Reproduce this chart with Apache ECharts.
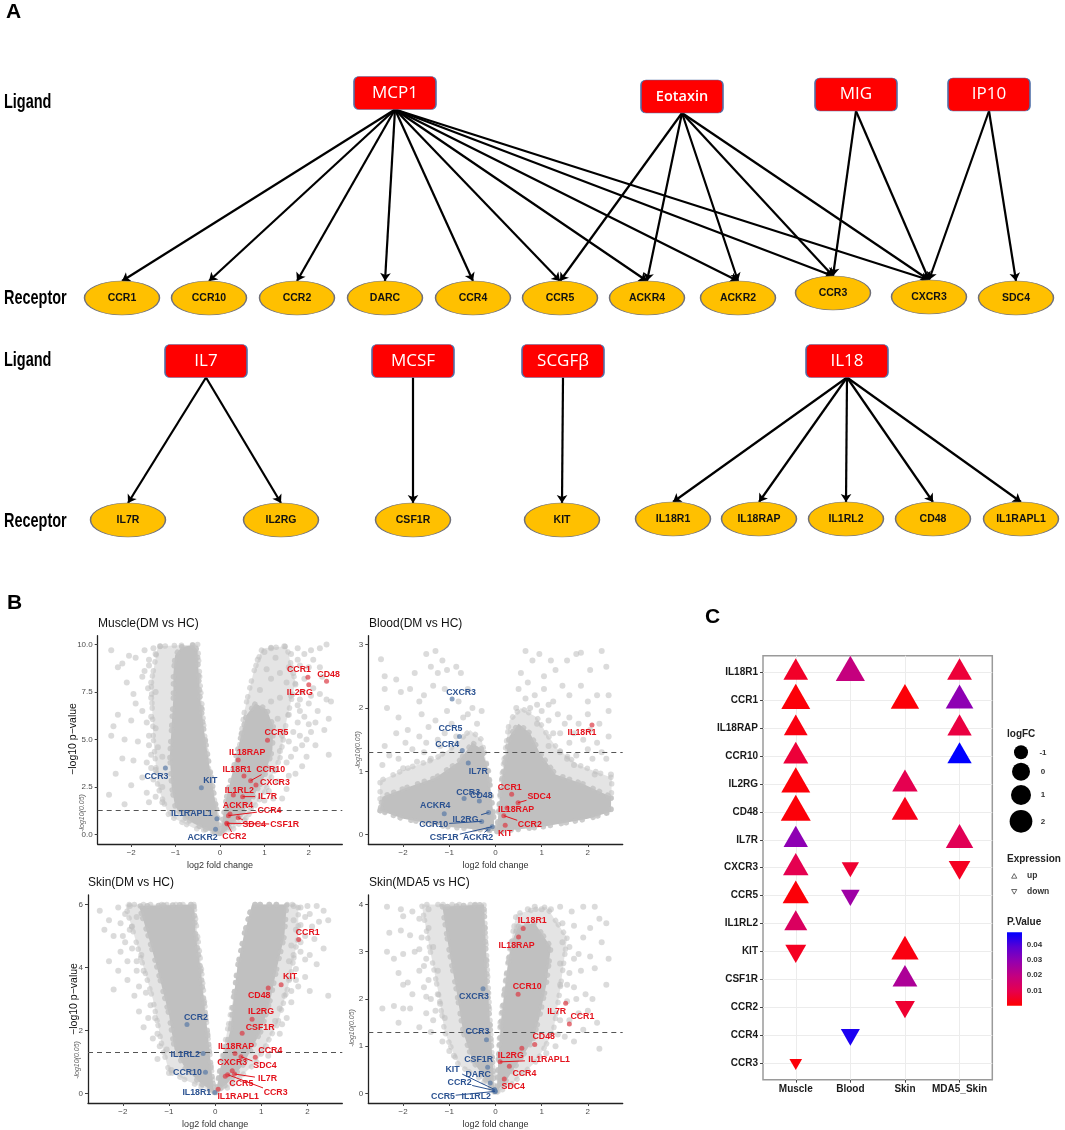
<!DOCTYPE html>
<html><head><meta charset="utf-8">
<style>html,body{margin:0;padding:0;background:#fff}#c{width:1065px;height:1130px}</style>
<script src="https://cdn.jsdelivr.net/npm/echarts@6/dist/echarts.min.js"></script>
</head><body><div id="c"></div>
<script>
// ---------- Panel A data ----------
const ligandsTop = ['MCP1','Eotaxin','MIG','IP10'];
const ligandsBottom = ['IL7','MCSF','SCGF\u03b2','IL18'];
const receptorsTop = ['CCR1','CCR10','CCR2','DARC','CCR4','CCR5','ACKR4','ACKR2','CCR3','CXCR3','SDC4'];
const receptorsBottom = ['IL7R','IL2RG','CSF1R','KIT','IL18R1','IL18RAP','IL1RL2','CD48','IL1RAPL1'];
const edgesA = [
 ['MCP1','CCR1'],['MCP1','CCR10'],['MCP1','CCR2'],['MCP1','DARC'],['MCP1','CCR4'],['MCP1','CCR5'],['MCP1','ACKR4'],['MCP1','ACKR2'],['MCP1','CCR3'],['MCP1','CXCR3'],
 ['Eotaxin','CCR5'],['Eotaxin','ACKR4'],['Eotaxin','ACKR2'],['Eotaxin','CCR3'],['Eotaxin','CXCR3'],
 ['MIG','CCR3'],['MIG','CXCR3'],['IP10','CXCR3'],['IP10','SDC4'],
 ['IL7','IL7R'],['IL7','IL2RG'],['MCSF','CSF1R'],['SCGF\u03b2','KIT'],
 ['IL18','IL18R1'],['IL18','IL18RAP'],['IL18','IL1RL2'],['IL18','CD48'],['IL18','IL1RAPL1']];
// node placement on the page (px): centre x, centre y
const ligandAt = {MCP1:[395,93],Eotaxin:[682,96.5],MIG:[856,94.5],IP10:[989,94.5],IL7:[206,361],MCSF:[413,361],'SCGF\u03b2':[563,361],IL18:[847,361]};
const receptorAt = {CCR1:[122,298],CCR10:[209,298],CCR2:[297,298],DARC:[385,298],CCR4:[473,298],CCR5:[560,298],ACKR4:[647,298],ACKR2:[738,298],CCR3:[833,293],CXCR3:[929,297],SDC4:[1016,298],
 IL7R:[128,520],IL2RG:[281,520],CSF1R:[413,520],KIT:[562,520],IL18R1:[673,519],IL18RAP:[759,519],IL1RL2:[846,519],CD48:[933,519],IL1RAPL1:[1021,519]};

// ---------- Panel B data: highlighted genes [name, log2FC, -log10 p] ----------
const muscleGenes = [['CCR1',1.98,8.27],['CD48',2.40,8.06],['IL2RG',2.0,7.88],['CCR5',1.07,4.97],['IL18RAP',0.41,3.92],['IL18R1',0.54,3.08],['CCR10',0.69,2.84],['CXCR3',0.81,2.61],['IL1RL2',0.30,2.08],['IL7R',0.51,2.0],['ACKR4',0.225,1.09],['CCR4',0.19,1.0],['SDC4',0.41,0.89],['CSF1R',0.15,0.6],['CCR2',0.165,0.56],['CCR3',-1.23,3.5],['KIT',-0.42,2.47],['IL1RAPL1',-0.07,0.84],['ACKR2',-0.10,0.28]];
const bloodGenes = [['IL18R1',2.09,1.73],['CCR1',0.35,0.64],['SDC4',0.49,0.505],['IL18RAP',0.25,0.42],['CCR2',0.18,0.30],['KIT',0.21,0.147],['CXCR3',-0.94,2.14],['CCR5',-0.78,1.55],['CCR4',-0.72,1.33],['IL7R',-0.59,1.13],['CCR3',-0.68,0.57],['CD48',-0.35,0.53],['ACKR4',-1.11,0.33],['IL2RG',-0.15,0.35],['CCR10',-0.30,0.21],['CSF1R',-0.07,0.126],['ACKR2',-0.16,0.084]];
const skinDmGenes = [['CCR1',1.81,4.89],['KIT',1.43,3.45],['CD48',1.15,3.35],['IL2RG',0.80,2.36],['CSF1R',0.585,1.91],['IL18RAP',0.43,1.27],['CCR4',0.87,1.15],['SDC4',0.56,1.17],['CXCR3',0.37,0.72],['IL7R',0.42,0.62],['CCR5',0.22,0.55],['CCR3',0.27,0.60],['IL1RAPL1',0.065,0.137],['CCR2',-0.61,2.19],['IL1RL2',-0.26,1.27],['CCR10',-0.21,0.675],['IL18R1',-0.007,0.03]];
const skinMdaGenes = [['IL18R1',0.60,3.49],['IL18RAP',0.50,3.31],['CCR10',0.49,2.10],['IL7R',1.52,1.91],['CCR1',1.60,1.47],['CD48',0.85,1.04],['IL2RG',0.57,0.956],['IL1RAPL1',0.10,0.67],['CCR4',0.30,0.58],['SDC4',0.19,0.31],['CXCR3',-0.27,2.215],['CCR3',-0.195,1.14],['CSF1R',-0.17,0.555],['DARC',-0.115,0.225],['KIT',-0.02,0.085],['CCR2',-0.02,0.063],['IL1RL2',-0.005,0.05],['CCR5',-0.01,0.045]];

// gene label placement: px offset from the point, third entry = draw leader line
const muscleLabels = {CCR1:[-9,-8],CD48:[2,-7],IL2RG:[-9,8],CCR5:[9,-8],IL18RAP:[9,-8],IL18R1:[-7,-7],CCR10:[20,-11,1],CXCR3:[19,-2],IL1RL2:[6,-5],IL7R:[25,0,1],ACKR4:[8,-8],CCR4:[41,-5,1],SDC4:[16,7,1],CSF1R:[58,1,1],CCR2:[7,13,1],CCR3:[-9,8],KIT:[9,-7],IL1RAPL1:[-25,-5],ACKR2:[-13,8]};
const bloodLabels = {IL18R1:[-10,8],CCR1:[-2,-7],SDC4:[21,-6,1],IL18RAP:[9,2],CCR2:[26,9,1],KIT:[0,8],CXCR3:[9,-7],CCR5:[-9,-8],CCR4:[-15,-6],IL7R:[10,8],CCR3:[4,-6],CD48:[2,-6],ACKR4:[-9,-8],IL2RG:[-23,7,1],CCR10:[-48,3,1],CSF1R:[-48,11,1],ACKR2:[-10,8,1]};
const skinDmLabels = {CCR1:[9,-7],KIT:[9,-8],CD48:[-9,8],IL2RG:[9,-8],CSF1R:[18,-6],IL18RAP:[1,-7],CCR4:[15,-7],SDC4:[24,9,1],CXCR3:[0,-8],IL7R:[33,5,1],CCR5:[16,7],CCR3:[48,18,1],IL1RAPL1:[20,7],CCR2:[9,-7],IL1RL2:[-18,1],CCR10:[-18,0],IL18R1:[-18,0]};
const skinMdaLabels = {IL18R1:[9,-8],IL18RAP:[-2,8],CCR10:[9,-8],IL7R:[-9,8],CCR1:[13,-7],CD48:[9,-8],IL2RG:[-11,7],IL1RAPL1:[49,-2,1],CCR4:[15,7],SDC4:[9,8],CXCR3:[-9,8],CCR3:[-9,-8],CSF1R:[-9,-8],DARC:[-12,-8],KIT:[-42,-20,1],CCR2:[-35,-8,1],IL1RL2:[-19,5],CCR5:[-52,5,1]};

// Dense clouds: outlines (core = solid, fringe = thinned-out zone)
const muscleCore = [[[-0.015,0.07],[-0.3,0.25],[-0.6,0.6],[-0.83,0.95],[-1.01,1.47],[-1.09,2.52],[-1.13,4.1],[-1.09,5.67],[-1.05,7.25],[-1.05,8.48],[-1.01,9.44],[-0.86,9.88],[-0.6,9.96],[-0.51,9.7],[-0.49,8.65],[-0.45,7.25],[-0.375,5.67],[-0.26,3.92],[-0.15,2.35],[-0.075,1.3],[0,0.25]],
 [[0.015,0.07],[0.075,0.95],[0.15,2.0],[0.26,3.05],[0.36,4.1],[0.47,5.15],[0.6,6.3],[0.8,6.9],[1.05,6.6],[1.2,5.7],[1.18,4.45],[1.0,3.05],[0.75,2.0],[0.49,1.12],[0.225,0.42],[0.075,0.07]]];
const muscleFringe = [[[-0.05,0.1],[-0.6,0.35],[-1.15,1],[-1.4,2.5],[-1.5,5],[-1.55,8],[-1.4,9.9],[-0.5,10],[-0.45,8],[-0.3,4],[-0.1,1.5]],
 [[0.05,0.3],[0.25,2.2],[0.4,4],[0.55,6.5],[0.75,8.5],[0.95,9.8],[1.5,9.9],[1.7,8],[1.5,6],[1.35,4],[1.0,2.2],[0.6,0.9],[0.2,0.1]]];
const bloodCore = [[[-2.5,0.38],[-2,0.25],[-1,0.12],[-0.04,0.06],[-0.03,0.2],[-0.15,1.0],[-0.3,1.35],[-0.5,1.45],[-0.8,1.15],[-1.3,0.9],[-1.9,0.75],[-2.45,0.6]],
 [[0.03,0.05],[1,0.12],[2,0.25],[2.5,0.36],[2.5,0.6],[1.9,0.8],[1.3,0.95],[0.95,1.3],[0.75,1.6],[0.5,1.75],[0.3,1.55],[0.12,0.8]]];
const bloodFringe = [[[-2.5,0.38],[-0.04,0.06],[-0.04,0.3],[-0.2,1.15],[-0.3,1.5],[-0.55,1.65],[-0.9,1.4],[-1.3,1.2],[-1.9,1.05],[-2.5,0.85]],
 [[0.03,0.05],[2.5,0.36],[2.52,0.9],[1.8,1.1],[1.35,1.35],[1.1,1.6],[0.9,1.85],[0.55,2.0],[0.3,1.8],[0.15,1.0]]];
const skinDmCore = [[[-0.02,0.05],[-0.3,0.3],[-0.65,0.8],[-0.88,1.4],[-1.0,2.5],[-1.26,4],[-1.45,5],[-1.65,5.95],[-0.46,6],[-0.42,5],[-0.32,4],[-0.25,3],[-0.17,2],[-0.08,0.7]],
 [[0.02,0.05],[0.1,0.7],[0.2,1.3],[0.33,2],[0.4,3],[0.48,4],[0.62,5],[0.8,6],[1.55,6],[1.5,5],[1.34,4],[1.2,3],[1,2],[0.6,0.9],[0.25,0.3]]];
const skinDmFringe = [[[-0.02,0.03],[-0.6,0.4],[-1,0.7],[-1.15,1.5],[-1.35,3],[-1.65,4.5],[-1.95,6],[-0.46,6],[-0.3,4],[-0.17,2],[-0.06,0.5]],
 [[0.02,0.03],[0.12,0.9],[0.33,2.5],[0.62,5],[0.8,6],[1.8,6],[1.8,5],[1.6,3.5],[1.35,2.2],[0.9,1],[0.3,0.2]]];
const skinMdaCore = [[[-0.03,0.05],[-0.22,0.3],[-0.5,0.7],[-0.7,1.3],[-0.85,2.2],[-1.0,3],[-1.15,3.95],[-0.25,4],[-0.22,3.3],[-0.17,2.2],[-0.1,1.2],[-0.05,0.5]],
 [[0.03,0.05],[0.06,0.7],[0.12,1.5],[0.25,2.6],[0.35,3.2],[0.5,3.55],[0.85,3.6],[1.2,3.1],[1.1,2.3],[0.95,1.6],[0.8,1.1],[0.55,0.75],[0.25,0.3]]];
const skinMdaFringe = [[[-0.03,0.03],[-0.3,0.3],[-0.8,0.6],[-1.1,1.3],[-1.25,2.2],[-1.45,3.2],[-1.6,4],[-0.25,4],[-0.1,1.2]],
 [[0.03,0.03],[0.1,1.5],[0.3,3],[0.45,3.8],[1.1,3.95],[1.55,3.3],[1.4,2.2],[1.25,1.3],[0.9,0.7],[0.3,0.15]]];

// Sparse outlying genes, estimated by eye
const muscleSparse = [[-2.45,9.7],[-2.2,9.0],[-2.3,8.8],[-2.05,9.4],[-1.9,9.3],[-1.7,9.7],[-1.6,9.2],[-1.6,8.9],[-1.45,9.5],[-1.35,9.9],[-2.1,8.0],[-1.95,7.4],[-1.75,8.3],[-1.55,8.0],[-1.45,7.5],[-2.3,6.3],[-2.4,5.7],[-2.0,6.0],[-1.75,6.5],[-1.55,6.2],[-1.45,5.6],[-2.45,5.2],[-2.15,5.0],[-1.85,4.9],[-1.6,4.7],[-1.4,4.6],[-2.2,4.0],[-1.95,3.9],[-1.65,3.8],[-1.45,3.4],[-1.3,4.1],[-2.35,3.2],[-1.75,3.0],[-1.5,2.9],[-1.3,2.5],[-2.5,2.1],[-2.0,2.6],[-1.65,2.2],[-1.45,2.0],[-1.3,1.7],[-2.15,1.6],
 [-1.7,8.6],[-1.55,7.2],[-1.65,5.9],[-1.6,5.2],[-1.55,4.2],[-1.55,3.5],[-1.6,1.7],[-1.5,9.8],[-1.62,7.7],[-1.9,6.9],
 [1.0,9.6],[0.85,9.2],[1.15,9.8],[1.25,9.3],[1.45,9.9],[1.6,9.5],[1.75,9.8],[1.9,9.5],[2.05,9.7],[2.25,9.8],[2.4,10],[2.1,9.2],[2.25,8.8],[1.8,8.9],[1.55,8.8],[1.35,8.5],[1.15,8.2],[1.05,8.7],[1.5,8.0],[1.7,7.9],[1.85,7.5],[2.1,7.7],[2.25,7.4],[2.4,7.1],[2.5,7.0],[1.6,7.3],[1.35,7.2],[1.15,7.0],[0.9,7.6],[2.0,6.9],[2.2,6.5],[2.45,6.1],[1.8,6.5],[1.55,6.3],[1.3,6.1],[2.0,5.8],[2.35,5.5],[1.65,5.4],[1.95,5.0],[1.4,5.2],[2.15,4.7],[1.7,4.5],[1.35,4.4],[2.45,4.2],[1.95,4.1],[1.5,3.8],[1.25,3.4],[1.7,3.2],[1.3,2.8],[1.1,2.3],[1.5,2.4],[1.0,1.8],[0.7,1.4],[0.55,0.75],
 [1.75,9.2],[2.0,8.8],[2.3,8.3],[1.65,8.5],[1.9,8.2],[1.8,7.1],[2.05,7.3],[1.75,6.8],[1.9,6.2],[1.75,5.9],[2.15,5.9],[1.8,5.2],[2.05,5.4],[1.55,4.9],[1.85,4.7],[1.6,4.1],[1.85,3.6],[1.55,3.1],[1.4,1.9],[1.2,1.9]];
const bloodSparse = [[-2.48,2.77],[-2.4,2.5],[-2.4,2.3],[-2.15,2.45],[-1.75,2.55],[-1.55,2.2],[-1.5,2.85],[-1.4,2.65],[-1.3,2.9],[-1.25,2.55],[-1.15,2.75],[-1.05,2.6],[-0.85,2.65],[-0.75,2.55],[-2.35,2.0],[-2.05,2.25],[-1.85,2.3],[-1.65,2.1],[-1.35,2.35],[-1.1,2.3],[-0.8,2.1],[-0.6,2.3],[-0.5,2.0],[-2.1,1.85],[-1.9,1.65],[-1.6,1.9],[-1.3,1.8],[-1.25,1.5],[-1.05,1.95],[-0.95,1.75],[-0.7,1.85],[-0.4,1.75],[-0.3,1.95],[-2.4,1.4],[-2.15,1.6],[-1.8,1.35],[-1.5,1.45],[-1.2,1.4],[-2.45,1.1],[-2.1,1.2],[-1.7,1.15],[-1.4,1.2],
 [-2.3,1.25],[-1.95,1.45],[-1.65,1.55],[-1.45,1.7],[-1.1,1.6],[-0.85,1.55],[-0.6,1.9],[-2.0,1.05],[-1.55,1.3],
 [0.55,2.55],[0.65,2.9],[0.8,2.75],[0.95,2.85],[1.05,2.5],[1.2,2.75],[1.3,2.6],[1.55,2.75],[1.75,2.85],[1.85,2.87],[2.05,2.6],[2.3,2.9],[2.4,2.65],[0.5,2.3],[0.7,2.4],[0.85,2.2],[1.05,2.3],[1.25,2.1],[1.45,2.35],[1.6,2.2],[1.85,2.35],[2.0,2.1],[2.2,2.2],[2.45,2.2],[0.45,2.0],[0.75,2.0],[1.0,1.95],[1.15,1.8],[1.35,1.9],[1.6,1.85],[1.8,1.75],[2.0,1.9],[2.25,1.75],[2.45,1.95],[0.9,1.75],[1.4,1.6],[1.6,1.45],[1.9,1.5],[2.2,1.45],[2.45,1.55],[1.15,1.4],[1.4,1.3],[1.75,1.25],[2.1,1.2],[2.4,1.2],[2.5,0.95],[2.15,0.95],[1.7,1.1],
 [1.25,1.6],[1.5,1.75],[1.7,1.6],[2.05,1.65],[2.3,1.3],[2.0,1.35],[1.55,1.2],[0.65,2.15],[0.9,2.05],[1.15,2.05]];
const skinDmSparse = [[-2.5,5.8],[-2.3,5.5],[-2.4,5.2],[-2.1,5.9],[-2.05,5.4],[-1.95,5.7],[-1.85,5.95],[-1.8,5.3],[-1.7,5.6],[-2.2,5],[-1.95,4.8],[-2.3,4.2],[-2.05,4.5],[-1.8,4.6],[-1.7,4.2],[-1.55,3.9],[-2.1,3.9],[-1.9,3.6],[-2.2,3.3],[-1.65,3.4],[-1.75,3.1],[-1.5,3.2],[-1.4,2.8],[-1.65,2.6],[-1.3,2.4],[-1.55,2.1],[-1.25,1.9],[-1.05,1.4],[-1.25,1.1],[-1.0,0.65],[-0.95,0.75],
 [-1.7,3.9],[-1.6,4.4],[-1.85,5.2],[-1.9,4.2],[-2.0,5.0],[-1.45,2.4],[-1.2,1.5],[-1.35,1.75],
 [1.7,5.95],[1.85,5.9],[2.0,5.95],[2.2,5.95],[2.35,5.8],[2.45,5.5],[1.7,5.5],[1.95,5.6],[2.1,5.3],[2.25,5.45],[1.75,5.2],[1.95,5.0],[2.15,4.9],[2.35,4.6],[1.65,4.7],[1.85,4.5],[2.05,4.4],[2.2,4.1],[1.6,4.2],[1.75,3.95],[1.95,3.7],[1.6,3.6],[1.8,3.4],[2.05,3.25],[1.5,3.1],[2.45,3.1],[1.65,2.9],[1.4,2.7],[1.55,2.4],[1.3,2.3],[1.4,1.9],[1.1,1.5],[1.15,1.2],
 [1.85,5.35],[2.05,5.7],[1.85,4.8],[1.7,4.4],[1.95,4.25],[1.75,3.6],[1.65,3.25],[1.45,2.2]];
const skinMdaSparse = [[-2.35,3.95],[-2.05,3.9],[-2.0,3.75],[-1.8,3.85],[-1.65,3.7],[-1.45,3.9],[-2.3,3.4],[-2.05,3.45],[-1.85,3.35],[-1.6,3.3],[-1.45,3.5],[-2.35,3.0],[-2.2,2.85],[-2.0,2.95],[-1.75,3],[-1.5,2.85],[-1.35,3.1],[-2.1,2.55],[-1.9,2.35],[-1.65,2.6],[-1.45,2.4],[-1.25,2.6],[-2.0,2.3],[-1.8,2.1],[-1.5,2.05],[-1.25,2.1],[-2.45,1.8],[-2.2,1.85],[-2.0,1.8],[-1.85,1.8],[-1.5,1.7],[-1.3,1.75],[-1.1,1.6],[-2.1,1.5],[-1.65,1.4],[-1.4,1.3],[-1.15,1.1],[-1.0,0.9],[-0.9,0.8],
 [-1.55,2.7],[-1.65,3.05],[-1.55,2.25],[-1.35,1.55],[-1.2,1.9],[-1.4,2.0],
 [0.7,3.9],[0.85,3.95],[1.0,3.9],[1.2,3.9],[1.4,3.95],[1.65,3.85],[1.9,3.95],[2.15,3.95],[2.25,3.7],[2.4,3.6],[1.45,3.6],[1.7,3.55],[1.9,3.3],[2.05,3.5],[2.3,3.2],[1.45,3.2],[1.6,3.1],[1.8,2.95],[2.05,2.9],[2.45,2.85],[1.4,2.75],[1.6,2.55],[1.85,2.6],[2.15,2.65],[2.4,2.3],[1.4,2.3],[1.7,2.25],[1.95,2.1],[2.1,2.0],[1.55,1.95],[1.8,1.7],[2.0,1.75],[2.2,1.5],[1.4,1.55],[1.9,1.35],[1.5,1.2],[1.7,1.1],[1.3,1.0],[1.1,0.85],[2.25,0.95],
 [1.7,2.85],[1.55,2.3],[1.75,2.0],[1.6,1.55],[1.35,1.25]];

const xTicks = [-2,-1,0,1,2];
const muscleYTicks = [0,2.5,5,7.5,10];
const bloodYTicks = [0,1,2,3];
const skinDmYTicks = [0,2,4,6];
const skinMdaYTicks = [0,1,2,3,4];
const pThreshold = 1.301;

// ---------- Panel C data ----------
const bubbleConditions = ['Muscle','Blood','Skin','MDA5_Skin'];
const bubbleGenes = ['IL18R1','CCR1','IL18RAP','CCR10','IL2RG','CD48','IL7R','CXCR3','CCR5','IL1RL2','KIT','CSF1R','CCR2','CCR4','CCR3'];
// [gene, condition, logFC, P.Value]
const bubbleRows = [
 ['IL18R1','Muscle',0.54,0.005],['IL18R1','Blood',2.09,0.019],['IL18R1','MDA5_Skin',0.60,0.007],
 ['CCR1','Muscle',1.98,0.001],['CCR1','Skin',1.81,0.001],['CCR1','MDA5_Skin',1.60,0.03],
 ['IL18RAP','Muscle',0.41,0.002],['IL18RAP','MDA5_Skin',0.50,0.008],
 ['CCR10','Muscle',0.69,0.007],['CCR10','MDA5_Skin',0.49,0.05],
 ['IL2RG','Muscle',2.0,0.001],['IL2RG','Skin',0.80,0.01],
 ['CD48','Muscle',2.40,0.001],['CD48','Skin',1.15,0.003],
 ['IL7R','Muscle',0.51,0.03],['IL7R','MDA5_Skin',1.52,0.011],
 ['CXCR3','Muscle',0.81,0.01],['CXCR3','Blood',-0.94,0.006],['CXCR3','MDA5_Skin',-0.27,0.004],
 ['CCR5','Muscle',1.07,0.001],['CCR5','Blood',-0.78,0.027],
 ['IL1RL2','Muscle',0.30,0.013],
 ['KIT','Muscle',-0.42,0.004],['KIT','Skin',1.43,0.002],
 ['CSF1R','Skin',0.585,0.024],
 ['CCR2','Skin',-0.61,0.006],
 ['CCR4','Blood',-0.72,0.045],
 ['CCR3','Muscle',-1.23,0.001]];
const legendLogFC = [-1,0,1,2];
const legendDirections = ['up','down'];
const legendP = [0.04,0.03,0.02,0.01];

// ---------- Layout ----------
const FONT = '"Liberation Sans",Arial,sans-serif';
const boxW = 82, boxH = 33, ellW = 75, ellH = 34;
const ELLIPSE = 'path://M0 50A100 50 0 0 1 200 50A100 50 0 0 1 0 50Z';
const ROUNDBOX = 'path://M5 0H77A5 5 0 0 1 82 5V28A5 5 0 0 1 77 33H5A5 5 0 0 1 0 28V5A5 5 0 0 1 5 0Z';
const pColors = ['#ff0000','#e6004e','#c4007f','#9500ae','#5a00d4','#0000ff'];
const panels = [
 {title:'Muscle(DM vs HC)',left:97.7,top:635.7,w:244.6,h:208.3,xr:2.755,ymin:-0.49,ymax:10.46,ticks:muscleYTicks,yfmt:v=>v.toFixed(1),genes:muscleGenes,labels:muscleLabels,core:muscleCore,fringe:muscleFringe,sparse:muscleSparse,yname:true,tx:98,ty:624,nx:82,ny:813},
 {title:'Blood(DM vs HC)',left:368.3,top:635.7,w:254.4,h:208.3,xr:2.755,ymin:-0.147,ymax:3.14,ticks:bloodYTicks,yfmt:v=>String(v),genes:bloodGenes,labels:bloodLabels,core:bloodCore,fringe:bloodFringe,sparse:bloodSparse,yname:false,tx:369,ty:624,nx:358,ny:750},
 {title:'Skin(DM vs HC)',left:88,top:895,w:254.3,h:208.7,xr:2.755,ymin:-0.3,ymax:6.3,ticks:skinDmYTicks,yfmt:v=>String(v),genes:skinDmGenes,labels:skinDmLabels,core:skinDmCore,fringe:skinDmFringe,sparse:skinDmSparse,yname:true,tx:88,ty:883,nx:77,ny:1060},
 {title:'Skin(MDA5 vs HC)',left:368.3,top:895,w:254.4,h:208.7,xr:2.755,ymin:-0.2,ymax:4.2,ticks:skinMdaYTicks,yfmt:v=>String(v),genes:skinMdaGenes,labels:skinMdaLabels,core:skinMdaCore,fringe:skinMdaFringe,sparse:skinMdaSparse,yname:false,tx:369,ty:883,nx:352,ny:1028}
];

const grid = [{left:0,top:0,width:1065,height:1130,show:false}];
const xAxis = [{type:'value',gridIndex:0,min:0,max:1065,show:false}];
const yAxis = [{type:'value',gridIndex:0,min:0,max:1130,inverse:true,show:false}];
const series = [];
const graphic = [];

function txt(x,y,text,o,extra){ graphic.push(Object.assign({type:'text',x,y,z:50,style:Object.assign({text,font:'10px '+FONT,fill:'#000',textAlign:'left',textVerticalAlign:'middle'},o||{})},extra||{})); }
function rotTxt(x,y,text,font,fill){ graphic.push({type:'text',x,y,rotation:Math.PI/2,z:50,style:{text,font,fill,textAlign:'center',textVerticalAlign:'middle'}}); }

// ---------- Panel A series ----------
series.push({type:'lines',coordinateSystem:'cartesian2d',xAxisIndex:0,yAxisIndex:0,polyline:false,z:3,silent:true,
 symbol:['none','arrow'],symbolSize:[0,8],
 lineStyle:{color:'#000',width:2.2,opacity:1,curveness:0},
 data:edgesA.map(([a,b])=>({coords:[[ligandAt[a][0],ligandAt[a][1]+boxH/2],[receptorAt[b][0],receptorAt[b][1]-ellH/2]]}))});
series.push({type:'scatter',xAxisIndex:0,yAxisIndex:0,z:4,silent:true,
 symbol:ROUNDBOX,symbolKeepAspect:false,symbolSize:[boxW,boxH],
 itemStyle:{color:'#ff0000',borderColor:'#4f6fa8',borderWidth:1,opacity:1},
 label:{show:true,position:'inside',formatter:p=>p.value[2],color:'#fff',fontFamily:'"Open Sans",sans-serif',fontSize:17},
 data:ligandsTop.concat(ligandsBottom).map(n=>({value:[ligandAt[n][0],ligandAt[n][1],n],label:n==='Eotaxin'?{fontSize:14.5,fontWeight:600}:undefined}))});
series.push({type:'scatter',xAxisIndex:0,yAxisIndex:0,z:4,silent:true,
 symbol:ELLIPSE,symbolKeepAspect:false,symbolSize:[ellW,ellH],
 itemStyle:{color:'#ffc000',borderColor:'#6f6f78',borderWidth:1,opacity:1},
 label:{show:true,position:'inside',formatter:p=>p.value[2],color:'#111',fontFamily:FONT,fontSize:10.5,fontWeight:'bold'},
 data:receptorsTop.concat(receptorsBottom).map(n=>[receptorAt[n][0],receptorAt[n][1],n])});

const condensed = 'bold 21px '+FONT;
[[102,'Ligand'],[298,'Receptor'],[360,'Ligand'],[521,'Receptor']].forEach(r=>txt(3,r[0],r[1],{font:condensed},{scaleX:0.69,originX:3}));
txt(6,12,'A',{font:'bold 21px '+FONT});
txt(7,603,'B',{font:'bold 21px '+FONT});
txt(705,617,'C',{font:'bold 21px '+FONT});

// ---------- Panel B series ----------
const RED='#e3121c', BLUE='#2b5291';
function polySeries(outline,axisIdx,fill,stroke){
 return {type:'custom',xAxisIndex:axisIdx,yAxisIndex:axisIdx,z:2,silent:true,clip:false,data:outline,encode:{x:0,y:1},
  renderItem:(params,api)=>{
   if(params.dataIndex!==0) return null;
   return {type:'polygon',shape:{points:outline.map(p=>api.coord(p))},
    style:{fill,stroke,lineWidth:5.5,lineCap:'round',lineDash:[0.1,5,0.1,9,0.1,7,0.1,11]}};
  }};
}
panels.forEach((p,i)=>{
 const ax=i+1;
 grid.push({left:p.left,top:p.top,width:p.w,height:p.h,show:false});
 xAxis.push({type:'value',gridIndex:ax,min:-p.xr,max:p.xr,splitLine:{show:false},
  axisLine:{show:true,onZero:false,lineStyle:{color:'#222',width:1.3}},
  axisTick:{show:true,length:3,customValues:xTicks,lineStyle:{color:'#444'}},
  axisLabel:{customValues:xTicks,color:'#4d4d4d',fontSize:8,fontFamily:FONT,margin:5,formatter:v=>String(v).replace('-','\u2212')},
  name:'log2 fold change',nameLocation:'middle',nameGap:17,nameTextStyle:{fontSize:9,color:'#333',fontFamily:FONT}});
 yAxis.push({type:'value',gridIndex:ax,min:p.ymin,max:p.ymax,splitLine:{show:false},
  axisLine:{show:true,onZero:false,lineStyle:{color:'#222',width:1.3}},
  axisTick:{show:true,length:3,customValues:p.ticks,lineStyle:{color:'#444'}},
  axisLabel:{customValues:p.ticks,color:'#4d4d4d',fontSize:8,fontFamily:FONT,margin:5,formatter:p.yfmt}});
 p.fringe.forEach(o=>series.push(polySeries(o,ax,'rgba(196,196,196,0.45)','rgba(196,196,196,0.6)')));
 p.core.forEach(o=>series.push(polySeries(o,ax,'#c0c0c0','rgba(192,192,192,0.8)')));
 series.push({type:'scatter',xAxisIndex:ax,yAxisIndex:ax,z:2,silent:true,symbolSize:6,
  itemStyle:{color:'#bebebe',opacity:0.55},data:p.sparse});
 series.push({type:'scatter',xAxisIndex:ax,yAxisIndex:ax,z:3,silent:true,symbolSize:5,
  itemStyle:{opacity:0.7,color:c=>c.value[0]>0?'#dc3a45':'#5a7ba6'},
  data:p.genes.map(g=>[g[1],g[2]]),
  markLine:{silent:true,symbol:['none','none'],z:3,label:{show:false},lineStyle:{color:'#555',type:[5,4],width:1},data:[{yAxis:pThreshold}]}});
 series.push({type:'custom',xAxisIndex:ax,yAxisIndex:ax,z:5,silent:true,clip:false,
  data:p.genes.map((g,k)=>[g[1],g[2],k]),encode:{x:0,y:1},
  renderItem:(params,api)=>{
   const g=p.genes[api.value(2)], lab=p.labels[g[0]]||[0,-8];
   const pt=api.coord([api.value(0),api.value(1)]);
   const cx=pt[0]+lab[0], cy=pt[1]+lab[1], col=g[1]>0?RED:BLUE;
   const kids=[];
   if(lab[2]){
    const hw=g[0].length*2.9+1, hh=5;
    const s=Math.min(Math.abs(lab[0])>0?hw/Math.abs(lab[0]):1,Math.abs(lab[1])>0?hh/Math.abs(lab[1]):1,1);
    kids.push({type:'line',shape:{x1:pt[0],y1:pt[1],x2:cx-lab[0]*s,y2:cy-lab[1]*s},style:{stroke:col,lineWidth:1}});
   }
   kids.push({type:'text',style:{x:cx,y:cy,text:g[0],fill:col,font:'bold 8.8px '+FONT,textAlign:'center',textVerticalAlign:'middle'}});
   return {type:'group',children:kids};
  }});
 txt(p.tx,p.ty,p.title,{font:'12px '+FONT,fill:'#111'});
 rotTxt(p.nx,p.ny,'-log10(0.05)','italic 7px '+FONT,'#666');
 if(p.yname) rotTxt(i===0?73:74,i===0?739:999,'\u2212log10 p\u2212value','10.5px '+FONT,'#111');
});

// ---------- Panel C series ----------
const cx=grid.length;
grid.push({left:763,top:655.7,width:229.3,height:424,show:true,borderColor:'#9a9a9a',borderWidth:1.5,backgroundColor:'transparent'});
const colIdx=bubbleConditions.map((_,i)=>i), rowIdx=bubbleGenes.map((_,i)=>i);
xAxis.push({type:'value',gridIndex:cx,min:-0.6,max:3.6,splitLine:{show:false},
 axisLine:{show:false,onZero:false},axisTick:{show:true,length:3,customValues:colIdx,lineStyle:{color:'#444'}},
 axisLabel:{customValues:colIdx,formatter:v=>bubbleConditions[v],fontSize:10,fontWeight:'bold',color:'#1a1a1a',fontFamily:FONT,margin:5}});
yAxis.push({type:'value',gridIndex:cx,min:-0.6,max:14.6,inverse:true,splitLine:{show:false},
 axisLine:{show:false,onZero:false},axisTick:{show:true,length:3,customValues:rowIdx,lineStyle:{color:'#444'}},
 axisLabel:{customValues:rowIdx,formatter:v=>bubbleGenes[v],fontSize:10,fontWeight:'bold',color:'#1a1a1a',fontFamily:FONT,margin:5}});
series.push({type:'scatter',xAxisIndex:cx,yAxisIndex:cx,z:1,silent:true,data:[],
 markLine:{silent:true,symbol:['none','none'],z:1,label:{show:false},lineStyle:{color:'#ececec',type:'solid',width:1},
  data:colIdx.map(i=>({xAxis:i})).concat(rowIdx.map(i=>({yAxis:i})))}});
const sizeStops=[[-1.23,12.7],[-0.94,17.3],[-0.6,20],[-0.27,21.7],[0.3,23],[0.55,24.7],[1.07,26.3],[1.6,27.7],[2,29],[2.4,30]];
function triWidth(v){ for(let i=1;i<sizeStops.length;i++){ if(v<=sizeStops[i][0]){const a=sizeStops[i-1],b=sizeStops[i];return a[1]+(b[1]-a[1])*(v-a[0])/(b[0]-a[0]);} } return 30; }
const triData=bubbleRows.map(r=>[bubbleConditions.indexOf(r[1]),bubbleGenes.indexOf(r[0]),r[2],r[3]]);
const upIdx=series.length;
series.push({type:'scatter',xAxisIndex:cx,yAxisIndex:cx,z:3,silent:true,symbol:'triangle',symbolOffset:[0,'-16%'],
 symbolSize:v=>{const w=triWidth(v[2]);return [w,w*0.87];},itemStyle:{opacity:1},data:triData.filter(d=>d[2]>=0)});
series.push({type:'scatter',xAxisIndex:cx,yAxisIndex:cx,z:3,silent:true,symbol:'triangle',symbolRotate:180,symbolOffset:[0,'14%'],
 symbolSize:v=>{const w=triWidth(v[2]);return [w,w*0.87];},itemStyle:{opacity:1},data:triData.filter(d=>d[2]<0)});

// legends of panel C
txt(1007,734.5,'logFC',{font:'bold 10px '+FONT,fill:'#222'});
const circleD=[14,18,20,22.7], circleY=[752.3,771.7,795,821.3];
legendLogFC.forEach((v,i)=>{
 graphic.push({type:'circle',shape:{cx:1021,cy:circleY[i],r:circleD[i]/2},style:{fill:'#000'},z:50});
 txt(1043,circleY[i],String(v),{font:'bold 8px '+FONT,fill:'#333',textAlign:'center'});
});
txt(1007,859.5,'Expression',{font:'bold 10px '+FONT,fill:'#222'});
legendDirections.forEach((d,i)=>{
 const y=[876,891.7][i];
 const s=i===0?-1:1;
 graphic.push({type:'polygon',shape:{points:[[1011.6,y+s*-2.2],[1016.8,y+s*-2.2],[1014.2,y+s*2.4]]},style:{fill:'none',stroke:'#444',lineWidth:0.8},z:50});
 txt(1027,y,d,{font:'bold 8.5px '+FONT,fill:'#333'});
});
txt(1007,922.5,'P.Value',{font:'bold 10px '+FONT,fill:'#222'});
// colour bar: blue at top (0.048), red at bottom (0)
graphic.push({type:'rect',shape:{x:1007,y:932.3,width:15,height:73.4},z:50,
 style:{fill:new echarts.graphic.LinearGradient(0,1,0,0,pColors.map((c,i)=>({offset:i/(pColors.length-1),color:c})))}});
const pLabelY=[944.3,959.7,975,990.3];
legendP.forEach((v,i)=>txt(1026.7,pLabelY[i],v.toFixed(2),{font:'bold 8px '+FONT,fill:'#333'}));

const option={
 animation:false,backgroundColor:'#fff',textStyle:{fontFamily:FONT},
 grid,xAxis,yAxis,series,graphic:{elements:graphic},
 visualMap:[{type:'continuous',show:false,seriesIndex:[upIdx,upIdx+1],dimension:3,min:0,max:0.048,inRange:{color:pColors}}]
};
echarts.init(document.getElementById('c'),null,{renderer:'canvas'}).setOption(option);
</script></body></html>
